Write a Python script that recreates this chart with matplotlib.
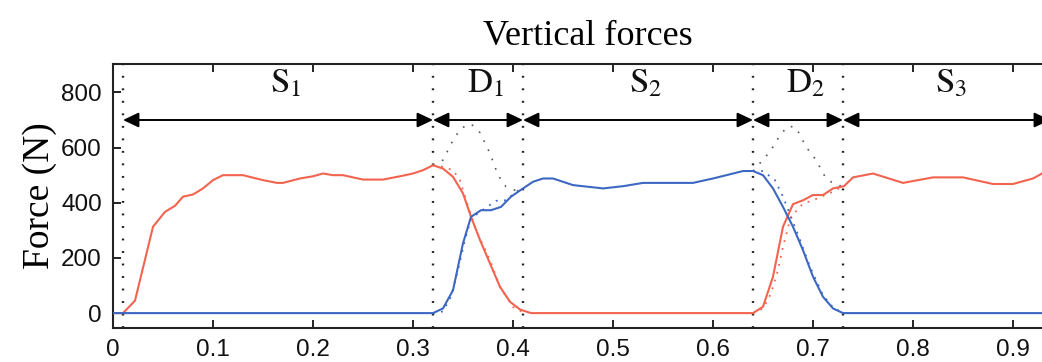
import matplotlib
matplotlib.use("Agg")
import matplotlib.pyplot as plt

# ---- data ----
red_t = [0.0, 0.010, 0.022, 0.040, 0.052, 0.062, 0.070, 0.080, 0.090, 0.100, 0.110, 0.130,
         0.150, 0.164, 0.170, 0.187, 0.200, 0.210, 0.220, 0.230, 0.250, 0.270, 0.287, 0.300,
         0.310, 0.320, 0.330, 0.340, 0.350, 0.358, 0.367, 0.377, 0.387, 0.397, 0.407, 0.418,
         0.640, 0.650, 0.660, 0.670, 0.680, 0.690, 0.700, 0.710, 0.720, 0.731, 0.740, 0.760,
         0.790, 0.820, 0.850, 0.880, 0.900, 0.920, 0.929, 0.940]
red_f = [0, 0, 45, 313, 367, 389, 422, 430, 452, 482, 500, 500,
         482, 472, 472, 488, 496, 506, 500, 500, 484, 484, 496, 506,
         518, 536, 524, 494, 434, 349, 265, 180, 95, 41, 13, 0,
         0, 23, 132, 313, 395, 409, 428, 428, 452, 460, 492, 506,
         472, 492, 492, 468, 468, 488, 506, 530]

blue_t = [0.0, 0.320, 0.330, 0.340, 0.350, 0.358, 0.368, 0.378, 0.388, 0.398, 0.410, 0.420,
          0.430, 0.440, 0.460, 0.490, 0.510, 0.530, 0.580, 0.600, 0.620, 0.630, 0.640, 0.650,
          0.660, 0.670, 0.680, 0.690, 0.700, 0.710, 0.720, 0.730, 0.950]
blue_f = [0, 0, 17, 83, 253, 349, 373, 373, 385, 422, 452, 476,
          488, 488, 464, 452, 460, 472, 472, 488, 506, 515, 515, 500,
          452, 385, 313, 228, 132, 59, 17, 0, 0]

# dotted (model) curves in double support phases
red_d1_t = [0.320, 0.330, 0.340, 0.347, 0.353, 0.363, 0.377, 0.387, 0.400, 0.410]
red_d1_f = [536, 530, 518, 482, 410, 301, 192, 95, 22, 3]
blue_d1_t = [0.320, 0.330, 0.338, 0.345, 0.352, 0.358, 0.372, 0.383, 0.393, 0.403, 0.410]
blue_d1_f = [0, 6, 60, 157, 265, 343, 380, 407, 409, 440, 452]
sum_d1_t = [0.320, 0.330, 0.340, 0.348, 0.358, 0.367, 0.377, 0.385, 0.393, 0.403, 0.410]
sum_d1_f = [536, 555, 627, 670, 686, 654, 579, 500, 458, 444, 452]

red_d2_t = [0.640, 0.650, 0.658, 0.665, 0.670, 0.678, 0.690, 0.700, 0.720, 0.730]
red_d2_f = [0, 17, 71, 156, 241, 349, 397, 409, 440, 460]
blue_d2_t = [0.640, 0.650, 0.662, 0.670, 0.678, 0.687, 0.697, 0.710, 0.720, 0.730]
blue_d2_f = [515, 515, 482, 422, 349, 265, 168, 65, 20, 0]
sum_d2_t = [0.640, 0.657, 0.667, 0.675, 0.683, 0.693, 0.703, 0.713, 0.723, 0.730]
sum_d2_f = [515, 585, 645, 678, 673, 603, 555, 488, 464, 460]

boundaries = [0.01, 0.32, 0.41, 0.64, 0.73]
phase_starts = [0.01, 0.32, 0.41, 0.64, 0.73]
phase_ends = [0.32, 0.41, 0.64, 0.73, 0.937]
phase_label_x = [0.173, 0.373, 0.533, 0.693, 0.838]
phase_letters = ["S", "D", "S", "D", "S"]
phase_subs = ["1", "1", "2", "2", "3"]

xticks = [0.0, 0.1, 0.2, 0.3, 0.4, 0.5, 0.6, 0.7, 0.8, 0.9]
xtick_labels = ["0", "0.1", "0.2", "0.3", "0.4", "0.5", "0.6", "0.7", "0.8", "0.9"]
yticks = [0, 200, 400, 600, 800]
ytick_labels = ["0", "200", "400", "600", "800"]

RED = "#f2644f"
BLUE = "#3d68c2"

plt.rcParams["mathtext.fontset"] = "stix"

fig = plt.figure(figsize=(10.42, 3.62), dpi=100)
ax = fig.add_axes([113 / 1042, 34 / 362, 950 / 1042, 264 / 362])

ax.plot(red_t, red_f, color=RED, lw=1.5, zorder=3)
ax.plot(blue_t, blue_f, color=BLUE, lw=1.5, zorder=3)
for t, f, c in [(red_d1_t, red_d1_f, RED), (blue_d1_t, blue_d1_f, BLUE),
                (red_d2_t, red_d2_f, RED), (blue_d2_t, blue_d2_f, BLUE)]:
    ax.plot(t, f, color=c, lw=1.3, ls=(0, (1, 3.5)), zorder=2)
for t, f in [(sum_d1_t, sum_d1_f), (sum_d2_t, sum_d2_f)]:
    ax.plot(t, f, color="#555555", lw=1.2, ls=(0, (1, 5)), zorder=2)

for b in boundaries:
    ax.axvline(b, color="#222222", lw=1.7, ls=(0, (0.8, 4.5)), zorder=1)

for s, e, xm, L, sub in zip(phase_starts, phase_ends, phase_label_x, phase_letters, phase_subs):
    ax.annotate("", xy=(e, 700), xytext=(s, 700),
                arrowprops=dict(arrowstyle="<|-|>,head_length=0.95,head_width=0.45",
                                mutation_scale=10, color="black", lw=1.4,
                                shrinkA=0, shrinkB=0), annotation_clip=False)
    ax.text(xm, 800, r"$\mathrm{%s}_{%s}$" % (L, sub), fontsize=25,
            ha="center", va="baseline", color="#111111")

ax.set_xlim(0, 0.95)
ax.set_ylim(-54, 903)
ax.set_xticks(xticks)
ax.set_xticklabels(xtick_labels)
ax.set_yticks(yticks)
ax.set_yticklabels(ytick_labels)
ax.tick_params(axis="both", direction="in", length=6, width=1.3, labelsize=17.5,
               top=True, right=False, pad=8, colors="#111111")
for lab in ax.get_xticklabels() + ax.get_yticklabels():
    lab.set_fontfamily("Liberation Sans")
for sp in ax.spines.values():
    sp.set_linewidth(1.5)
    sp.set_color("#222222")
ax.spines["right"].set_visible(False)

ax.set_ylabel("Force (N)", fontsize=27, fontfamily="Liberation Serif", labelpad=3)
ax.set_title("Vertical forces", fontsize=26, fontfamily="Liberation Serif", pad=14)

fig.savefig("out.png", dpi=100)
